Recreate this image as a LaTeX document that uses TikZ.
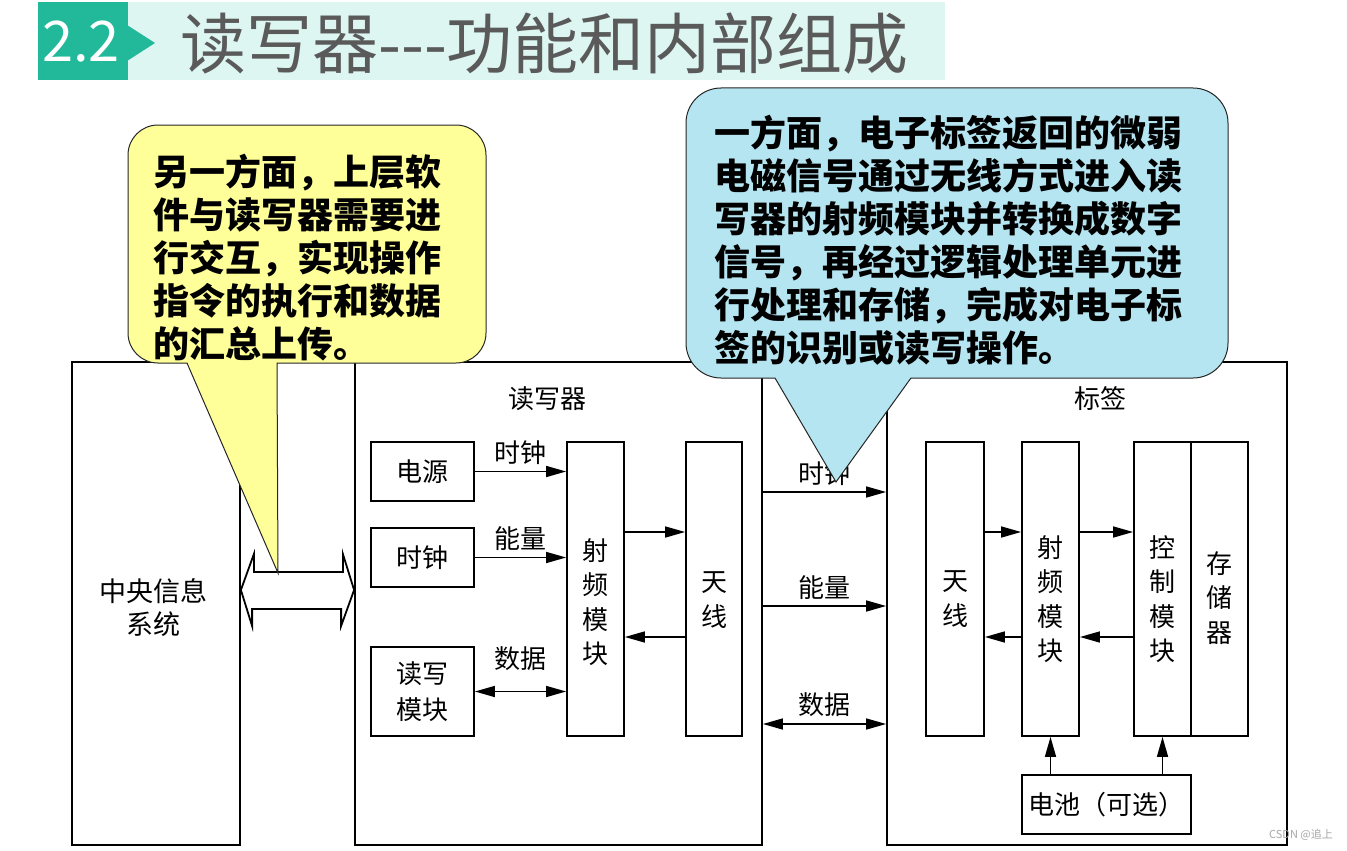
\documentclass[tikz,border=0pt]{standalone}
\usepackage{fontspec}
\setmainfont{Noto Sans CJK SC}
\usetikzlibrary{arrows.meta,calc}

\definecolor{headteal}{HTML}{22B99A}
\definecolor{headmint}{HTML}{DDF6F1}
\definecolor{headgray}{HTML}{5A5A5A}
\definecolor{noteyellow}{HTML}{FFFF99}
\definecolor{noteblue}{HTML}{B5E5F1}

\tikzset{frame/.style={draw,line width=1.8pt,inner sep=0pt}}
\tikzset{blk/.style={draw,line width=1.8pt,inner sep=0pt,align=center,font=\fontsize{26}{30}\selectfont}}
\tikzset{txt/.style={inner sep=0pt,align=center,font=\fontsize{26}{34.5}\selectfont}}
\tikzset{arr/.style={line width=1.6pt,-{Triangle[length=20pt,width=11pt]}}}
\tikzset{darr/.style={line width=1.6pt,{Triangle[length=20pt,width=11pt]}-{Triangle[length=20pt,width=11pt]}}}
\tikzset{lab/.style={inner sep=2pt,above=4pt,font=\fontsize{26}{30}\selectfont}}
\tikzset{note/.style={draw=black!85,line width=1pt}}
\tikzset{notetxt/.style={inner sep=0pt,anchor=north west,align=left,font=\bfseries\fontsize{36}{43}\selectfont}}

\begin{document}
\begin{tikzpicture}[x=1pt,y=-1pt]
    \useasboundingbox (0,0) rectangle (1347,851);
    % title bar
    \fill[headmint] (128,2) rectangle (945,80);
    \fill[headteal] (38,2) rectangle (128,80);
    \fill[headteal] (127,25) -- (155,43) -- (127,61) -- cycle;
    \node[inner sep=0pt,text=white,font=\fontsize{56}{60}\selectfont] (num) at (81,42) {2.2};
    \node[inner sep=0pt,anchor=west,text=headgray,font=\fontsize{66}{70}\selectfont] (title) at (180,44) {读写器-{}-{}-功能和内部组成};

    % three frames
    \node[frame,minimum width=168pt,minimum height=483pt] (cis) at (156,603.5) {};
    \node[frame,minimum width=407pt,minimum height=483pt] (reader) at (558.5,603.5) {};
    \node[frame,minimum width=400pt,minimum height=483pt] (tag) at (1087,603.5) {};
    \node[txt,font=\fontsize{27}{33}\selectfont] (cistxt) at (153,608) {中央信息\\系统};
    \node[txt] (readertxt) at (547,399) {读写器};
    \node[txt] (tagtxt) at (1100,399) {标签};

    \coordinate (yup) at (0,532);
    \coordinate (ydn) at (0,637);
    \coordinate (yclk) at (0,492);
    \coordinate (yeng) at (0,606);
    \coordinate (ydat) at (0,724);
    \coordinate (ybus) at (0,590);

    % reader
    \node[blk,minimum width=103pt,minimum height=59pt] (power) at (422.5,471.5) {电源};
    \node[blk,minimum width=103pt,minimum height=59pt] (clock) at (422.5,557.5) {时钟};
    \node[blk,minimum width=103pt,minimum height=89pt,font=\fontsize{26}{36}\selectfont] (rw) at (422.5,691.5) {读写\\模块};
    \node[blk,minimum width=57pt,minimum height=294pt] (rfr) at (595.5,589) {};
    \node[blk,minimum width=56pt,minimum height=294pt] (antr) at (714,589) {};
    \node[txt] (rfrtxt) at (595.5,602) {射\\频\\模\\块};
    \node[txt] (antrtxt) at (714,600) {天\\线};

    \draw[arr] (power.east) -- node[lab]{时钟} (power.east -| rfr.west);
    \draw[arr] (clock.east) -- node[lab]{能量} (clock.east -| rfr.west);
    \draw[darr] (rw.east) -- node[lab,above=14pt]{数据} (rw.east -| rfr.west);
    \draw[arr] (rfr.east |- yup) -- (antr.west |- yup);
    \draw[arr] (antr.west |- ydn) -- (rfr.east |- ydn);

    % reader <-> tag
    \draw[arr] (reader.east |- yclk) -- node[lab]{时钟} (tag.west |- yclk);
    \draw[arr] (reader.east |- yeng) -- node[lab]{能量} (tag.west |- yeng);
    \draw[darr] (reader.east |- ydat) -- node[lab,above=1pt]{数据} (tag.west |- ydat);

    % tag
    \node[blk,minimum width=58pt,minimum height=294pt] (antt) at (955,589) {};
    \node[blk,minimum width=57pt,minimum height=294pt] (rft) at (1050.5,589) {};
    \node[blk,minimum width=57pt,minimum height=294pt] (ctrl) at (1162.5,589) {};
    \node[blk,minimum width=57pt,minimum height=294pt] (mem) at (1219.5,589) {};
    \node[blk,minimum width=169pt,minimum height=59pt] (batt) at (1106.5,804.5) {电池（可选）};
    \node[txt] (antttxt) at (955,599) {天\\线};
    \node[txt] (rfttxt) at (1050.5,599) {射\\频\\模\\块};
    \node[txt] (ctrltxt) at (1162.5,599) {控\\制\\模\\块};
    \node[txt] (memtxt) at (1219.5,598) {存\\储\\器};

    \draw[arr] (antt.east |- yup) -- (rft.west |- yup);
    \draw[arr] (rft.west |- ydn) -- (antt.east |- ydn);
    \draw[arr] (rft.east |- yup) -- (ctrl.west |- yup);
    \draw[arr] (ctrl.west |- ydn) -- (rft.east |- ydn);
    \draw[arr] (batt.north -| rft) -- (rft.south);
    \draw[arr] (batt.north -| ctrl) -- (ctrl.south);

    % bus between system and reader
    \draw[line width=1.8pt,fill=white] (cis.east |- ybus) -- ++(13,-36) -- ++(0,18) -- ++(89,0) -- ++(0,-18)
        -- (reader.west |- ybus) -- ++(-13,36) -- ++(0,-17) -- ++(-89,0) -- ++(0,17) -- cycle;

    % callouts
    \draw[note,fill=noteyellow] (277,363) -- (278,573) -- (187,363) [rounded corners=30pt] -- (128,363)
        -- (128,125) -- (486,125) -- (486,363) [sharp corners] -- cycle;
    \node[notetxt] (leftnote) at (153,154) {另一方面，上层软\\件与读写器需要进\\行交互，实现操作\\指令的执行和数据\\的汇总上传。};
    \draw[note,fill=noteblue] (911,378) -- (836,482) -- (775,378) [rounded corners=35pt] -- (686,378)
        -- (686,88) -- (1228,88) -- (1228,378) [sharp corners] -- cycle;
    \node[notetxt] (rightnote) at (714,115) {一方面，电子标签返回的微弱\\电磁信号通过无线方式进入读\\写器的射频模块并转换成数字\\信号，再经过逻辑处理单元进\\行处理和存储，完成对电子标\\签的识别或读写操作。};

    \node[inner sep=0pt,anchor=east,text=gray!70,font=\fontsize{11}{12}\selectfont] (mark) at (1333,835) {CSDN @追上};
\end{tikzpicture}
\end{document}
